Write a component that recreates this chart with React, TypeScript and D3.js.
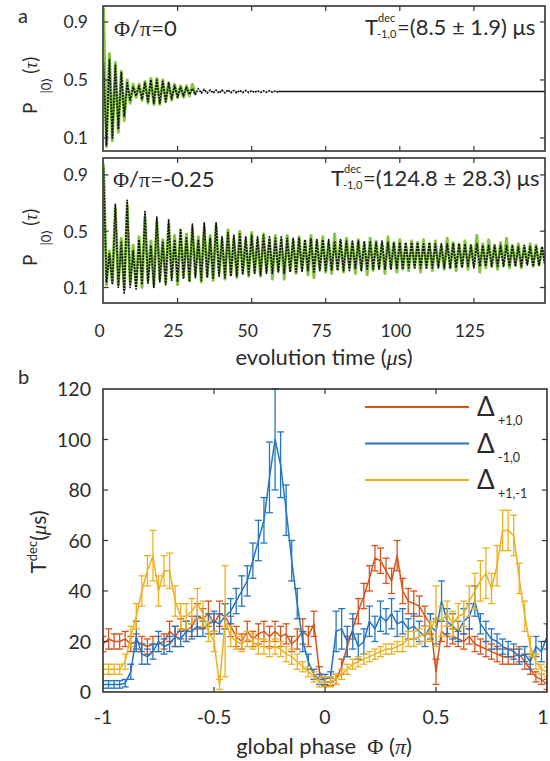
import React from 'react';
import * as d3 from 'd3';

const SANS = 'Lato, "Open Sans", "DejaVu Sans", sans-serif';
const SERIF = '"Liberation Serif", "DejaVu Serif", serif';

// ---- panel a : P|0>(tau) traces, one sample per microsecond ----
const timeStep = 1;
const timeMax = 149;
const timeTicks = [0, 25, 50, 75, 100, 125];
const probTicks = [0.1, 0.5, 0.9];

// Phi/pi = 0 : fit (black dotted) and data (green)
const topFit = [
  0.62, 0.05, 0.64, 0.1, 0.6, 0.16, 0.55, 0.25, 0.48, 0.36,
  0.45, 0.39, 0.46, 0.37, 0.48, 0.35, 0.5, 0.34, 0.5, 0.34,
  0.49, 0.35, 0.48, 0.37, 0.46, 0.38, 0.45, 0.39, 0.45, 0.4,
  0.44, 0.4, 0.44, 0.41, 0.435, 0.41, 0.43, 0.41, 0.43, 0.41,
  0.43, 0.41, 0.43, 0.412, 0.428, 0.412, 0.428, 0.413, 0.427, 0.413,
  0.426, 0.414, 0.426, 0.414, 0.425, 0.415, 0.425, 0.415, 0.424, 0.416,
];
const topFitTail = 0.42; // fit has settled from here to the end of the window
const topData = [
  1.0, 0.04, 0.68, 0.08, 0.62, 0.14, 0.56, 0.22, 0.5, 0.34,
  0.47, 0.38, 0.47, 0.36, 0.49, 0.34, 0.51, 0.33, 0.51, 0.33,
  0.5, 0.35, 0.48, 0.36, 0.47, 0.38, 0.46, 0.38, 0.46, 0.39,
  0.47, 0.4,
];

// Phi/pi = -0.25
const botFit = [
  0.95, 0.14, 0.34, 0.12, 0.69, 0.1, 0.42, 0.06, 0.72, 0.1,
  0.36, 0.09, 0.44, 0.12, 0.64, 0.13, 0.4, 0.1, 0.6, 0.14,
  0.42, 0.12, 0.58, 0.15, 0.44, 0.14, 0.52, 0.16, 0.46, 0.14,
  0.55, 0.17, 0.44, 0.15, 0.56, 0.17, 0.45, 0.16, 0.56, 0.18,
  0.46, 0.17, 0.49, 0.18, 0.47, 0.18, 0.48, 0.19, 0.46, 0.19,
  0.47, 0.2, 0.46, 0.19, 0.47, 0.2, 0.46, 0.2, 0.45, 0.21,
  0.46, 0.2, 0.45, 0.21, 0.45, 0.21, 0.45, 0.21, 0.44, 0.22,
  0.45, 0.21, 0.44, 0.22, 0.44, 0.22, 0.44, 0.22, 0.43, 0.22,
  0.44, 0.22, 0.43, 0.22, 0.43, 0.23, 0.43, 0.22, 0.43, 0.23,
  0.43, 0.23, 0.42, 0.23, 0.43, 0.23, 0.42, 0.23, 0.42, 0.23,
  0.42, 0.23, 0.42, 0.24, 0.42, 0.23, 0.42, 0.24, 0.41, 0.24,
  0.42, 0.24, 0.41, 0.24, 0.41, 0.24, 0.41, 0.24, 0.41, 0.24,
  0.41, 0.24, 0.41, 0.25, 0.4, 0.24, 0.41, 0.25, 0.4, 0.25,
  0.4, 0.25, 0.4, 0.25, 0.4, 0.25, 0.4, 0.25, 0.4, 0.25,
  0.39, 0.25, 0.4, 0.26, 0.39, 0.25, 0.39, 0.26, 0.39, 0.26,
];
const botData = [
  0.98, 0.12, 0.36, 0.14, 0.66, 0.12, 0.45, 0.09, 0.68, 0.13,
  0.4, 0.11, 0.46, 0.1, 0.6, 0.15, 0.43, 0.12, 0.57, 0.16,
  0.44, 0.13, 0.55, 0.17, 0.47, 0.12, 0.5, 0.18, 0.48, 0.15,
  0.52, 0.19, 0.46, 0.14, 0.53, 0.18, 0.47, 0.15, 0.54, 0.2,
  0.44, 0.16, 0.51, 0.19, 0.45, 0.17, 0.5, 0.21, 0.44, 0.18,
  0.49, 0.21, 0.44, 0.18, 0.48, 0.22, 0.44, 0.16, 0.47, 0.22,
  0.44, 0.16, 0.47, 0.22, 0.43, 0.2, 0.46, 0.23, 0.43, 0.19,
  0.47, 0.17, 0.43, 0.23, 0.46, 0.21, 0.42, 0.2, 0.48, 0.23,
  0.43, 0.21, 0.45, 0.24, 0.42, 0.2, 0.44, 0.23, 0.41, 0.19,
  0.45, 0.22, 0.43, 0.24, 0.41, 0.2, 0.46, 0.24, 0.42, 0.21,
  0.44, 0.23, 0.41, 0.22, 0.43, 0.25, 0.42, 0.21, 0.44, 0.24,
  0.41, 0.22, 0.43, 0.25, 0.4, 0.23, 0.45, 0.24, 0.42, 0.22,
  0.41, 0.25, 0.43, 0.23, 0.4, 0.26, 0.47, 0.21, 0.41, 0.24,
  0.44, 0.25, 0.4, 0.23, 0.42, 0.26, 0.45, 0.24, 0.4, 0.26,
  0.41, 0.24, 0.39, 0.27, 0.41, 0.25, 0.4, 0.26, 0.38, 0.27,
];

// ---- panel b : T_dec vs global phase, step 0.025 pi from -1 to 1 ----
const phaseStart = -1;
const phaseStep = 0.025;
const phaseTicks = [-1, -0.5, 0, 0.5, 1];
const tdecTicks = [0, 20, 40, 60, 80, 100, 120];

const redT = [
  19, 21, 20, 20, 21, 19, 20, 19,
  18, 19, 19, 20, 24, 22, 25, 24,
  26, 30, 29, 31, 27, 31, 30, 26,
  22, 20, 24, 21, 23, 24, 22, 24,
  22, 23, 19, 21, 24, 22, 27, 8,
  4, 4, 5, 10, 18, 25, 32, 38,
  45, 53, 52, 48, 44, 54, 40, 36,
  35, 34, 30, 27, 8, 24, 22, 22,
  21, 20, 22, 19, 18, 17, 16, 15,
  14, 14, 14, 15, 12, 9, 6, 5,
  3,
];
const redErr = [
  3, 4, 3, 3, 3, 3, 3, 3,
  3, 3, 3, 3, 4, 4, 4, 4,
  4, 5, 4, 5, 4, 5, 5, 4,
  4, 3, 4, 3, 4, 4, 4, 4,
  4, 4, 3, 4, 5, 4, 5, 2,
  1.5, 1.5, 2, 3, 4, 4, 5, 5,
  5, 5, 5, 5, 5, 6, 5, 5,
  5, 4, 4, 4, 5, 4, 4, 3,
  3, 3, 3, 3, 3, 3, 3, 3,
  3, 3, 3, 3, 3, 2, 2, 2,
  2,
];
const blueT = [
  3, 3, 3, 3, 3.5, 8, 22, 15,
  14, 16, 20, 18, 19, 22, 21, 24,
  24, 26, 25, 27, 28, 27, 30, 32,
  36, 40, 44, 52, 60, 68, 85, 100,
  90, 72, 52, 35, 20, 12, 7, 5,
  5, 6, 24, 25, 20, 24, 18, 20,
  28, 25, 30, 28, 31, 27, 28, 25,
  26, 24, 22, 26, 24, 36, 28, 26,
  24, 28, 30, 36, 27, 24, 21, 20,
  18, 17, 16, 14, 15, 12, 18, 16,
  22,
];
const blueErr = [
  1.5, 1.5, 1.5, 1.5, 1.5, 3, 6, 4,
  3, 3, 4, 3, 3, 4, 3, 4,
  3, 4, 3, 4, 4, 4, 5, 5,
  5, 6, 6, 7, 8, 9, 14, 20,
  13, 10, 8, 6, 4, 3, 2, 2,
  2, 2, 8, 8, 6, 7, 5, 5,
  6, 5, 6, 5, 6, 5, 5, 4,
  5, 4, 4, 5, 5, 8, 5, 5,
  4, 5, 5, 6, 4, 4, 4, 3,
  3, 3, 3, 3, 3, 3, 4, 4,
  5,
];
const yellowT = [
  9, 9, 9, 9, 12, 22, 30, 40,
  48, 54, 40, 48, 48, 36, 30, 30,
  32, 35, 31, 24, 20, 3, 28, 22,
  20, 19, 21, 20, 18, 18, 17, 18,
  17, 15, 14, 12, 10, 8, 6, 4,
  4, 4, 5, 7, 9, 11, 12, 13,
  14, 15, 16, 17, 17, 18, 19, 21,
  21, 22, 23, 24, 30, 28, 31, 27,
  30, 31, 36, 40, 44, 47, 41, 50,
  64, 64, 62, 45, 30, 18, 12, 9,
  8,
];
const yellowErr = [
  2, 2, 2, 2, 3, 4, 5, 6,
  6, 10, 6, 6, 7, 6, 5, 5,
  5, 6, 5, 4, 4, 2, 22, 4,
  3, 3, 3, 3, 3, 3, 3, 3,
  3, 3, 3, 3, 2, 2, 2, 2,
  2, 2, 2, 2, 2, 2, 2, 2,
  2, 2, 2, 2, 2, 2, 3, 3,
  3, 3, 3, 4, 12, 6, 5, 5,
  5, 5, 6, 7, 8, 10, 6, 8,
  8, 8, 8, 6, 6, 4, 3, 2,
  2,
];

const seriesB = [
  { label: '+1,0', color: '#D95319', values: redT, err: redErr },
  { label: '-1,0', color: '#2475c4', values: blueT, err: blueErr },
  { label: '+1,-1', color: '#EDB120', values: yellowT, err: yellowErr },
];

const GREEN = '#86c443';
const FRAME = '#333';
const INK = '#2b2b2b';

// scales
const xTime = d3.scaleLinear().domain([0, timeMax]).range([103.5, 545]);
const yTop = d3.scaleLinear().domain([0.01, 1.01]).range([151, 6]);
const yBot = d3.scaleLinear().domain([-0.01, 1.02]).range([303, 158]);
const xPhase = d3.scaleLinear().domain([-1, 1]).range([103, 547]);
const yTdec = d3.scaleLinear().domain([0, 120]).range([692, 389]);

type Pt = [number, number];

function Trace({ pts, y, color, width, dash }: { pts: Pt[]; y: d3.ScaleLinear<number, number>; color: string; width: number; dash?: string }) {
  const line = d3.line<Pt>().x(d => xTime(d[0])).y(d => y(d[1]));
  return <path d={line(pts) || ''} fill="none" stroke={color} strokeWidth={width} strokeDasharray={dash} strokeLinejoin="round" />;
}

function PanelA({ y, fit, data, tail, clip, children }: { y: d3.ScaleLinear<number, number>; fit: Pt[]; data: Pt[]; tail?: Pt[]; clip: string; children?: React.ReactNode }) {
  const [x0, x1] = xTime.range();
  const [y0, y1] = y.range();
  return (
    <g>
      <defs>
        <clipPath id={clip}>
          <rect x={x0} y={y1} width={x1 - x0} height={y0 - y1} />
        </clipPath>
      </defs>
      <g clipPath={`url(#${clip})`}>
        <Trace pts={data} y={y} color={GREEN} width={3} />
        <Trace pts={fit} y={y} color="#111" width={1.7} dash="2 1" />
        {tail && <Trace pts={tail} y={y} color="#111" width={1.6} />}
      </g>
      <rect x={x0 - 0.5} y={y1} width={x1 - x0 + 0.5} height={y0 - y1} fill="none" stroke={FRAME} strokeWidth={1.6} />
      {timeTicks.slice(1).map(t => (
        <g key={t} stroke={FRAME} strokeWidth={1.2}>
          <line x1={xTime(t)} x2={xTime(t)} y1={y1} y2={y1 + 5} />
          <line x1={xTime(t)} x2={xTime(t)} y1={y0} y2={y0 - 5} />
        </g>
      ))}
      {probTicks.map(p => (
        <g key={p}>
          <line x1={x0} x2={x0 + 5} y1={y(p)} y2={y(p)} stroke={FRAME} strokeWidth={1.2} />
          <line x1={x1} x2={x1 - 5} y1={y(p)} y2={y(p)} stroke={FRAME} strokeWidth={1.2} />
          <text x={88} y={y(p)} dy="0.36em" textAnchor="end" fontSize={17.5} fill={INK}>{p}</text>
        </g>
      ))}
      {children}
    </g>
  );
}

function PLabel({ cy }: { cy: number }) {
  return (
    <text transform={`translate(37,${cy + 34}) rotate(-90)`} fontSize={19} fill={INK}>
      P
      <tspan fontSize={13} dx={9} dy={14}>|0⟩</tspan>
      <tspan dx={4} dy={-14}>(</tspan>
      <tspan fontFamily={SERIF} fontStyle="italic">τ</tspan>
      <tspan>)</tspan>
    </text>
  );
}

// T^dec_{-1,0}=(value) annotation: T, stacked scripts, then the value text
function TdecNote({ x, yBase, value }: { x: number; yBase: number; value: string }) {
  return (
    <g fill={INK}>
      <text x={x} y={yBase} fontSize={22}>T</text>
      <text x={x + 13} y={yBase - 13} fontSize={11}>dec</text>
      <text x={x + 12} y={yBase + 3} fontSize={11}>-1,0</text>
      <text x={x + 32} y={yBase} fontSize={22}>{value}</text>
    </g>
  );
}

export default function App() {
  const topFitPts: Pt[] = topFit.map((v, i) => [i * timeStep, v]);
  const topTailPts: Pt[] = [[(topFit.length - 1) * timeStep, topFitTail], [timeMax, topFitTail]];
  const topDataPts: Pt[] = topData.map((v, i) => [i * timeStep, v]);
  const botFitPts: Pt[] = botFit.map((v, i) => [i * timeStep, v]);
  const botDataPts: Pt[] = botData.map((v, i) => [i * timeStep, v]);

  const phases = redT.map((_, i) => phaseStart + i * phaseStep);
  const [bx0, bx1] = xPhase.range();
  const [by0, by1] = yTdec.range();
  const lineB = d3.line<number>().x((_, i) => xPhase(phases[i])).y(d => yTdec(d));

  return (
    <svg width={550} height={761} style={{ position: 'absolute', left: 0, top: 0, background: '#fff' }} fontFamily={SANS}>
      <rect width={550} height={761} fill="#fff" />
      <text x={18} y={23} fontSize={20} fill={INK}>a</text>

      <PanelA y={yTop} fit={topFitPts} tail={topTailPts} data={topDataPts} clip="clipTop">
        <text x={114} y={36} fontSize={22} fill={INK}>
          <tspan fontFamily={SERIF}>Φ</tspan>/<tspan fontFamily={SERIF}>π</tspan>=0
        </text>
        <TdecNote x={365} yBase={35} value="=(8.5 ± 1.9) μs" />
      </PanelA>
      <PanelA y={yBot} fit={botFitPts} data={botDataPts} clip="clipBot">
        <text x={113} y={187} fontSize={22} fill={INK}>
          <tspan fontFamily={SERIF}>Φ</tspan>/<tspan fontFamily={SERIF}>π</tspan>=-0.25
        </text>
        <TdecNote x={331} yBase={186} value="=(124.8 ± 28.3) μs" />
      </PanelA>
      <PLabel cy={80} />
      <PLabel cy={232} />

      {timeTicks.map(t => (
        <text key={t} x={xTime(t) - 4} y={337} textAnchor="middle" fontSize={17.5} fill={INK}>{t}</text>
      ))}
      <text x={324} y={365} textAnchor="middle" fontSize={22} fill={INK}>
        evolution time (<tspan fontFamily={SERIF} fontStyle="italic">μ</tspan>s)
      </text>

      {/* panel b */}
      <text x={18} y={384} fontSize={20} fill={INK}>b</text>
      <defs>
        <clipPath id="clipB">
          <rect x={bx0} y={by1 - 2} width={bx1 - bx0} height={by0 - by1 + 2} />
        </clipPath>
      </defs>
      <g clipPath="url(#clipB)">
        {seriesB.map(s => (
          <g key={s.label} stroke={s.color} fill="none" strokeWidth={1.5}>
            <path d={lineB(s.values) || ''} strokeLinejoin="round" />
            {s.values.map((v, i) => {
              const x = xPhase(phases[i]);
              const lo = yTdec(v - s.err[i]);
              const hi = yTdec(v + s.err[i]);
              return (
                <g key={i} strokeWidth={1.3}>
                  <line x1={x} x2={x} y1={lo} y2={hi} />
                  <line x1={x - 3.5} x2={x + 3.5} y1={lo} y2={lo} />
                  <line x1={x - 3.5} x2={x + 3.5} y1={hi} y2={hi} />
                </g>
              );
            })}
          </g>
        ))}
      </g>
      <rect x={bx0} y={by1} width={bx1 - bx0} height={by0 - by1} fill="none" stroke={FRAME} strokeWidth={1.6} />
      {phaseTicks.slice(1, -1).map(p => (
        <g key={p} stroke={FRAME} strokeWidth={1.2}>
          <line x1={xPhase(p)} x2={xPhase(p)} y1={by1} y2={by1 + 5} />
          <line x1={xPhase(p)} x2={xPhase(p)} y1={by0} y2={by0 - 5} />
        </g>
      ))}
      {tdecTicks.slice(1, -1).map(v => (
        <g key={v} stroke={FRAME} strokeWidth={1.2}>
          <line x1={bx0} x2={bx0 + 5} y1={yTdec(v)} y2={yTdec(v)} />
          <line x1={bx1} x2={bx1 - 5} y1={yTdec(v)} y2={yTdec(v)} />
        </g>
      ))}
      {tdecTicks.map(v => (
        <text key={v} x={91} y={yTdec(v)} dy="0.36em" textAnchor="end" fontSize={19.5} fill={INK}>{v}</text>
      ))}
      {phaseTicks.map(p => (
        <text key={p} x={Math.min(xPhase(p), 543)} y={724} textAnchor="middle" fontSize={19.5} fill={INK}>{p}</text>
      ))}
      <text x={324} y={754} textAnchor="middle" fontSize={22} fill={INK}>
        global phase{'\u00a0\u00a0'}<tspan fontFamily={SERIF}>Φ</tspan> (<tspan fontFamily={SERIF} fontStyle="italic">π</tspan>)
      </text>
      <text transform="translate(46,542) rotate(-90)" textAnchor="middle" fontSize={21} fill={INK}>
        T<tspan fontSize={13} dy={-9}>dec</tspan>
        <tspan dy={9}>(</tspan><tspan fontFamily={SERIF} fontStyle="italic">μ</tspan>s)
      </text>

      {/* legend */}
      {seriesB.map((s, i) => (
        <g key={s.label}>
          <line x1={365} x2={469} y1={407 + i * 36.5} y2={407 + i * 36.5} stroke={s.color} strokeWidth={2} />
          <text x={477} y={416 + i * 36.5} fontSize={26} fill={INK}>Δ</text>
          <text x={498} y={425 + i * 36.5} fontSize={12.5} fill={INK}>{s.label}</text>
        </g>
      ))}
    </svg>
  );
}
